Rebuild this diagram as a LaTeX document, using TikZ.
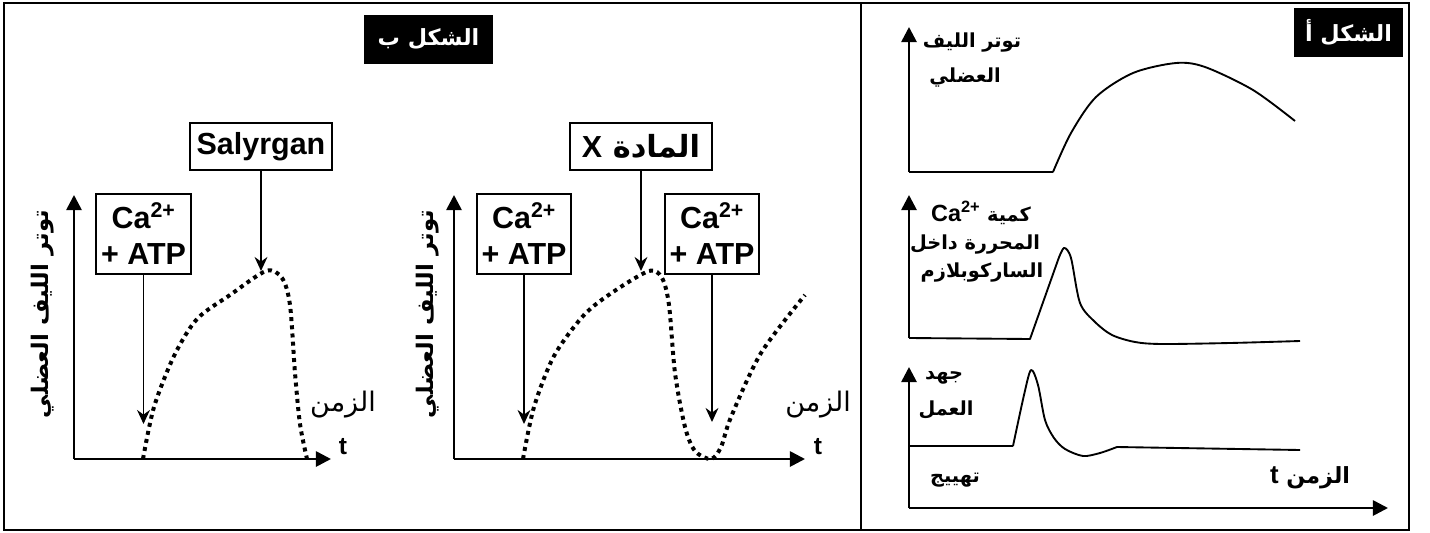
\documentclass[tikz,border=0pt]{standalone}
\usepackage{fontspec}
\setmainfont{Liberation Sans}
\newfontfamily\arabicfont[Script=Arabic]{DejaVu Sans}
\TeXXeTstate=1
\usepackage{tikz}
\usetikzlibrary{positioning,arrows.meta}
\newcommand{\artxt}[1]{{\arabicfont\beginR #1\endR}}
\newcommand{\lattxt}[1]{\beginL{\rmfamily #1}\endL}

\begin{document}
\begin{tikzpicture}[
    x=0.03cm, y=-0.03cm,
    frame/.style={line width=1.6pt},
    tag/.style={fill=black, text=white, inner sep=0pt, minimum height=1.47cm,
      font=\bfseries\fontsize{19}{22}\selectfont},
    box/.style={draw, line width=1.3pt, inner sep=0pt, align=center,
      font=\bfseries\fontsize{26}{31}\selectfont},
    axis/.style={line width=2.3pt, -{Triangle[length=13pt,width=13pt]}},
    feed/.style={line width=1.5pt, -{Stealth[length=12pt,width=11pt,inset=4pt]}},
    trace/.style={line width=1.6pt, line join=round},
    dots/.style={line width=3.4pt, dash pattern=on 3.4pt off 3.6pt},
    lblA/.style={font=\bfseries\fontsize{16.5}{19}\selectfont, inner sep=0pt},
    lblB/.style={font=\fontsize{23}{27}\selectfont, inner sep=0pt},
    ylbl/.style={rotate=90, font=\bfseries\fontsize{19.5}{22}\selectfont, inner sep=0pt}
  ]
    \useasboundingbox (0,0) rectangle (1430,532);
    \draw[frame] (4,3) rectangle (1409,530);
    \draw[frame] (861,3) -- (861,530);

    \node[tag, minimum width=3.27cm] (tagA) at (1348.5,32.5) {\artxt{الشكل أ}};
    \node[tag, minimum width=3.87cm] (tagB) at (428.5,39.5) {\artxt{الشكل ب}};

    \coordinate (oA1) at (909,172);
    \coordinate (yA1) at (909,27);
    \coordinate (oA2) at (909,338);
    \coordinate (yA2) at (909,195);
    \coordinate (oA3) at (909,508);
    \coordinate (yA3) at (909,367);
    \coordinate (xA3) at (1388,508);
    \draw[axis] (oA1) -- (yA1);
    \draw[axis] (oA2) -- (yA2);
    \draw[axis] (oA3) -- (yA3);
    \draw[axis] (oA3) -- (xA3);

    \draw[trace] (oA1) -- (1053,172) plot[smooth] coordinates {(1053,172) (1071,133) (1096,97) (1133,73) (1176,63) (1205,67) (1253,90) (1295,121)};
    \draw[trace] (oA2) -- (1030,339) -- (1058,260) plot[smooth] coordinates {(1058,260) (1064,248) (1071,258) (1080,303) (1095,322) (1112,335) (1135,342) (1162,344) (1230,343) (1300,341)};
    \draw[trace] (909,446) -- (1013,446) plot[smooth] coordinates {(1013,446) (1024,395) (1031,370) (1038,385) (1045,420) (1054,438) (1065,449) (1083,456) (1100,453) (1117,447)} -- (1300,450);

    \node[lblA] (tA1) at (972,43) {\artxt{توتر الليف}};
    \node[lblA] (tA2) at (965,78) {\artxt{العضلي}};
    \node[lblA] (tA3) at (981,213) {\artxt{كمية \lattxt{\fontsize{20}{22}\selectfont Ca\textsuperscript{2+}}}};
    \node[lblA] (tA4) at (975,245) {\artxt{المحررة داخل}};
    \node[lblA] (tA5) at (982,273) {\artxt{الساركوبلازم}};
    \node[lblA] (tA6) at (944,378) {\artxt{جهد}};
    \node[lblA] (tA7) at (946,410) {\artxt{العمل}};
    \node[lblA] (tA8) at (955,480) {\artxt{تهييج}};
    \node[lblA, font=\bfseries\fontsize{19}{22}\selectfont] (tA9) at (1310,478) {\artxt{الزمن \lattxt{\fontsize{22}{24}\selectfont t}}};

    \coordinate (oB1) at (74,459);
    \coordinate (yB1) at (74,195);
    \coordinate (xB1) at (331,459);
    \draw[axis] (oB1) -- (yB1);
    \draw[axis] (oB1) -- (xB1);
    \node[box, minimum width=2.85cm, minimum height=2.4cm] (caB1) at (143.5,234) {Ca\textsuperscript{2+}\\+ ATP};
    \node[box, minimum width=4.26cm, minimum height=1.41cm] (salB) at (261,146.5) {Salyrgan};
    \coordinate (hB1) at (143.5,424);
    \coordinate (hB2) at (261,271);
    \draw[feed] (caB1) -- (hB1);
    \draw[feed] (salB) -- (hB2);
    \draw[dots] plot[smooth] coordinates {(143,459) (154,407) (174,356) (197,319) (230,295) (266,271) (282,278) (290,305) (295,373) (300,424) (307,459)};
    \node[ylbl] (yl1) at (43,314) {\artxt{توتر الليف العضلي}};
    \node[lblB] (tB1) at (343,405) {\artxt{الزمن}};
    \node[lblB, font=\bfseries\fontsize{21}{24}\selectfont] (tB2) at (343,447) {t};

    \coordinate (oB2) at (454,459);
    \coordinate (yB2) at (454,195);
    \coordinate (xB2) at (805,459);
    \draw[axis] (oB2) -- (yB2);
    \draw[axis] (oB2) -- (xB2);
    \node[box, minimum width=2.82cm, minimum height=2.4cm] (caB2) at (524,234) {Ca\textsuperscript{2+}\\+ ATP};
    \node[box, minimum width=4.26cm, minimum height=1.41cm] (matX) at (641,146.5) {\artxt{المادة \lattxt{X}}};
    \node[box, minimum width=2.82cm, minimum height=2.4cm] (caB3) at (712,234) {Ca\textsuperscript{2+}\\+ ATP};
    \coordinate (hB3) at (524,424);
    \coordinate (hB4) at (641,271);
    \coordinate (hB5) at (712,422);
    \draw[feed] (caB2) -- (hB3);
    \draw[feed] (matX) -- (hB4);
    \draw[feed] (caB3) -- (hB5);
    \draw[dots] plot[smooth] coordinates {(523,459) (534,407) (554,356) (584,315) (613,292) (649,271) (662,278) (669,305) (675,373) (685,427) (695,451) (711,459) (721,447) (731,417) (761,353) (805,295)};
    \node[ylbl] (yl2) at (428,314) {\artxt{توتر الليف العضلي}};
    \node[lblB] (tB3) at (818,405) {\artxt{الزمن}};
    \node[lblB, font=\bfseries\fontsize{21}{24}\selectfont] (tB4) at (818,447) {t};
  \end{tikzpicture}
\end{document}
